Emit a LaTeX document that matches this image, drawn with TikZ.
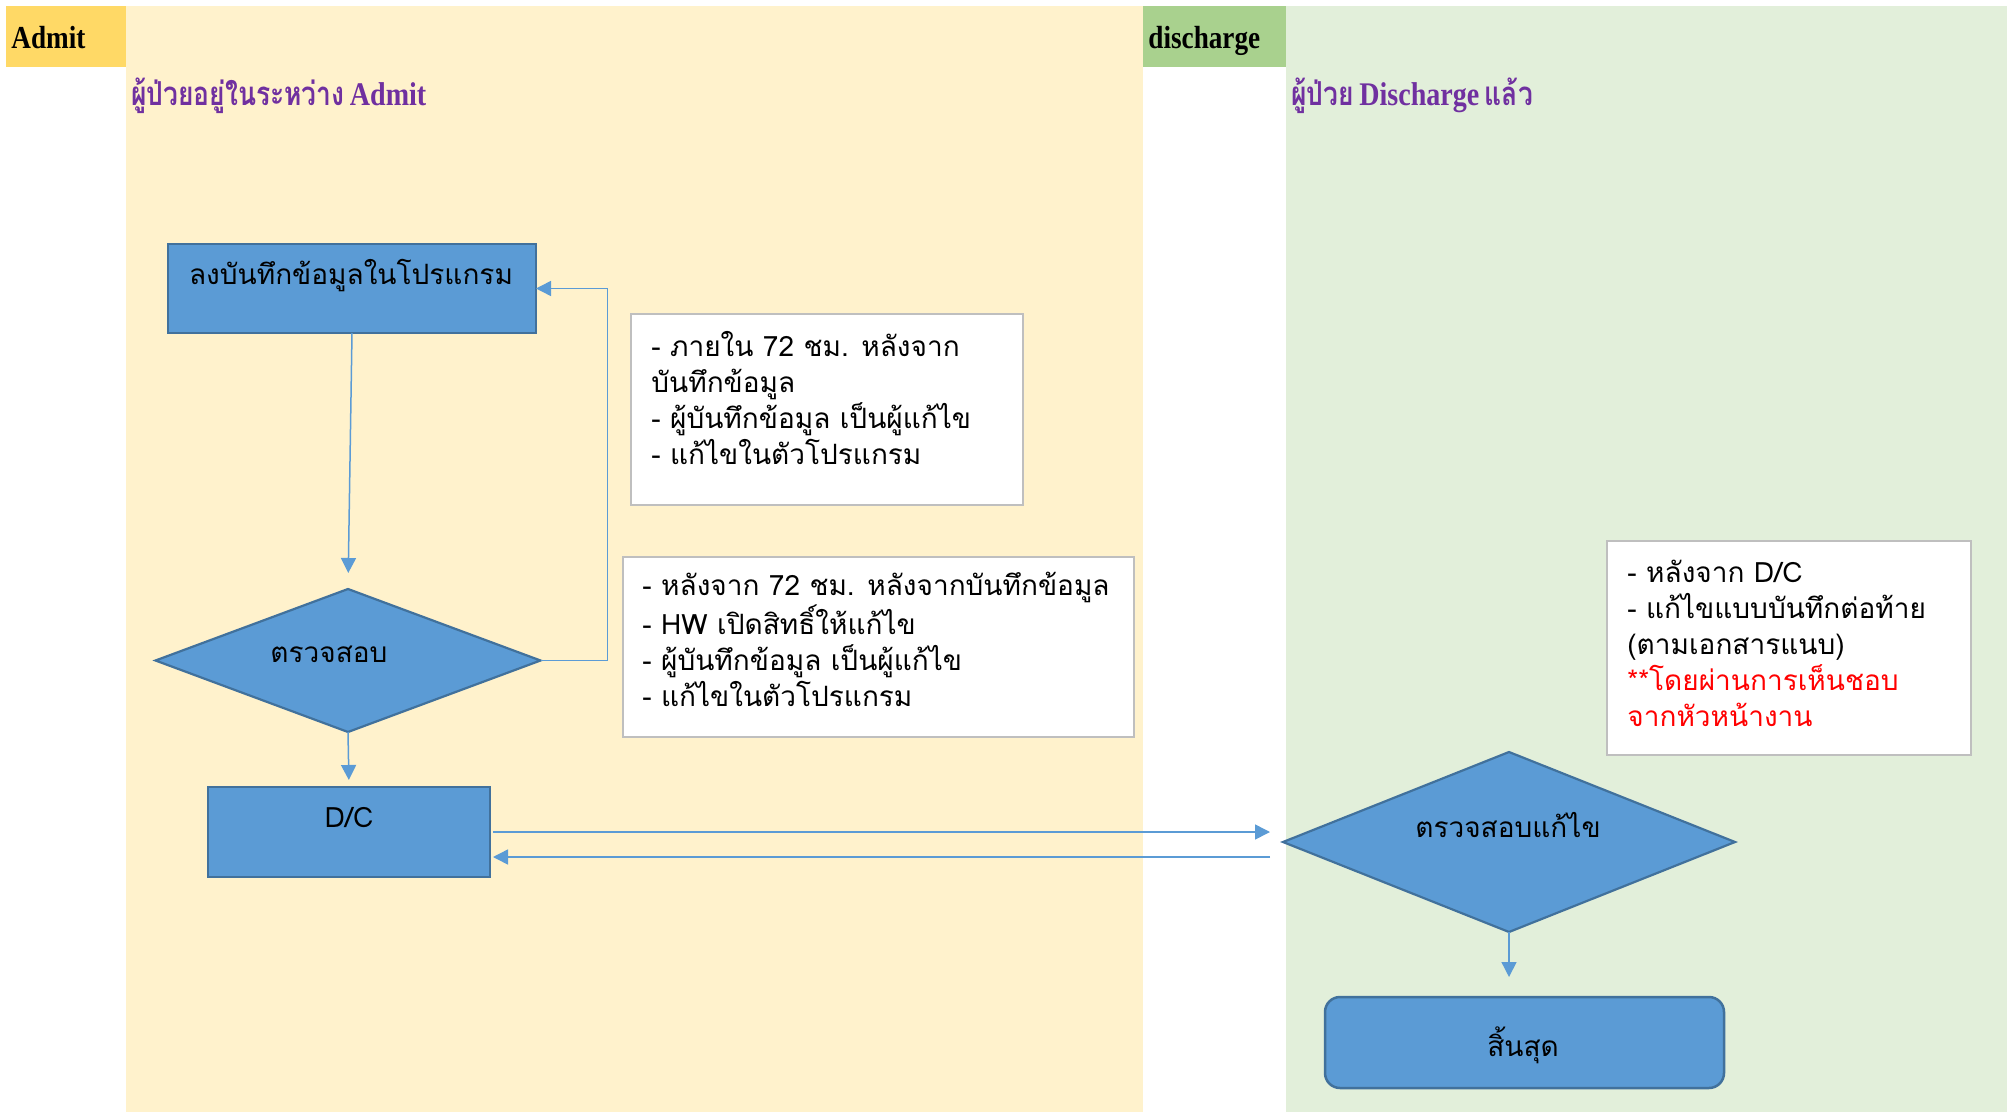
\documentclass[tikz,border=0pt]{standalone}
\usepackage{fontspec}
\usetikzlibrary{shapes.geometric,arrows.meta,calc}
\newfontfamily\thai[Script=Thai]{Loma}
\newfontfamily\hdr[FakeStretch=0.85]{Liberation Serif}
\newfontfamily\thaititle[Script=Thai,FakeStretch=0.8]{Loma}
\definecolor{hdryel}{HTML}{FFD966}
\definecolor{laneyel}{HTML}{FFF2CC}
\definecolor{hdrgrn}{HTML}{A9D18E}
\definecolor{lanegrn}{HTML}{E2EFDA}
\definecolor{boxfill}{HTML}{5B9BD5}
\definecolor{boxline}{HTML}{41719C}
\definecolor{arrcol}{HTML}{5B9BD5}
\definecolor{notebd}{HTML}{BFBFBF}
\definecolor{ttlpurple}{HTML}{7030A0}
\definecolor{notered}{HTML}{FF0000}
\tikzset{
  procbox/.style={draw=boxline,fill=boxfill,line width=1.25pt,inner sep=0pt,outer sep=0pt},
  decbox/.style={diamond,draw=boxline,fill=boxfill,line width=1.1pt,inner sep=0pt,outer sep=0pt},
  notebox/.style={draw=notebd,fill=white,line width=1pt,inner sep=0pt,outer sep=0pt},
  bodytext/.style={font=\thai\fontsize{14pt}{18pt}\selectfont,text=black,inner sep=0pt},
  notetext/.style={bodytext,align=left,anchor=north west},
  arr/.style={draw=arrcol,line width=0.75pt,-{Triangle[length=7.5pt,width=7.5pt]}},
  hdrtext/.style={font=\hdr\fontsize{16pt}{18pt}\selectfont\bfseries,anchor=base west,inner sep=0pt},
  ttltext/.style={font=\fontsize{16.5pt}{20pt}\selectfont\bfseries,text=ttlpurple,anchor=base west,inner sep=0pt}
}
\begin{document}
\begin{tikzpicture}[x=0.5pt,y=-0.5pt]
\useasboundingbox (0,0) rectangle (2011,1112);
% lanes
\fill[laneyel] (126,6) rectangle (1143,1112);
\fill[hdryel] (6,6) rectangle (126,67);
\fill[lanegrn] (1286,6) rectangle (2007,1112);
\fill[hdrgrn] (1143,6) rectangle (1286,67);
\node[hdrtext] (hAdmit) at (11,49) {Admit};
\node[hdrtext] (hDis) at (1148,49) {discharge};
\node[ttltext] (tAdmit) at (131,106) {{\thaititle ผู้ป่วยอยู่ในระหว่าง}\,{\hdr Admit}};
\node[ttltext] (tDis) at (1291,106) {{\thaititle ผู้ป่วย}\,{\hdr Discharge}\,{\thaititle แล้ว}};
% process nodes
\node[procbox,minimum width=184pt,minimum height=44.5pt] (b1) at (352,288.5) {};
\node[bodytext] (b1t) at (351,276) {ลงบันทึกข้อมูลในโปรแกรม};
\node[decbox,minimum width=192.5pt,minimum height=71.5pt] (d1) at (348,660.5) {};
\node[bodytext] (d1t) at (329,654) {ตรวจสอบ};
\node[procbox,minimum width=141pt,minimum height=45pt] (dc) at (349,832) {};
\node[bodytext] (dct) at (349,818) {D/C};
\node[decbox,minimum width=226pt,minimum height=90pt] (d2) at (1509,842) {};
\node[bodytext] (d2t) at (1508,825) {ตรวจสอบแก้ไข};
\node[procbox,rounded corners=7.5pt,minimum width=199.5pt,minimum height=45.5pt] (en) at (1524.5,1042.5) {};
\node[bodytext] (ent) at (1523,1045) {สิ้นสุด};
% notes
\node[notebox,minimum width=196pt,minimum height=95.5pt,anchor=north west] (n1) at (631,314) {};
\node[notetext] (n1t) at (651,331) {- ภายใน 72 ชม. หลังจาก\\บันทึกข้อมูล\\- ผู้บันทึกข้อมูล เป็นผู้แก้ไข\\- แก้ไขในตัวโปรแกรม};
\node[notebox,minimum width=255.5pt,minimum height=90pt,anchor=north west] (n2) at (623,557) {};
\node[notetext] (n2t) at (642,572) {- หลังจาก 72 ชม. หลังจากบันทึกข้อมูล\\- HW เปิดสิทธิ์ให้แก้ไข\\- ผู้บันทึกข้อมูล เป็นผู้แก้ไข\\- แก้ไขในตัวโปรแกรม};
\node[notebox,minimum width=182pt,minimum height=107pt,anchor=north west] (n3) at (1607,541) {};
\node[notetext] (n3t) at (1627,560) {- หลังจาก D/C\\- แก้ไขแบบบันทึกต่อท้าย\\(ตามเอกสารแนบ)\\\textcolor{notered}{**โดยผ่านการเห็นชอบ}\\\textcolor{notered}{จากหัวหน้างาน}};
% connectors
\draw[arr,shorten >=8pt] (b1.south) -- (d1.north);
\draw[arr,shorten >=3.5pt] (d1.south) -- (dc.north);
\draw[arr] (d1.east) -- ++(67,0) |- (b1.east);
\draw[arr,shorten <=1.5pt,shorten >=6.5pt] (dc.east) -- (d2.west |- dc.east);
\coordinate (r1) at (1270,857);
\draw[arr,shorten >=1.5pt] (r1) -- (dc.east |- r1);
\draw[arr,shorten >=10pt] (d2.south) -- (d2.south |- en.north);
\end{tikzpicture}
\end{document}
